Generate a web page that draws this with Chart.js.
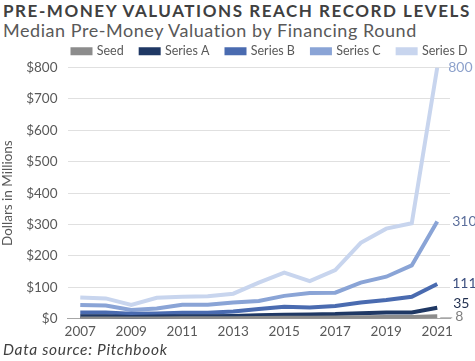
<!DOCTYPE html>
<html><head><meta charset="utf-8">
<script src="https://cdn.jsdelivr.net/npm/chart.js@4"></script>
<style>
body{margin:0;background:#fff;width:475px;height:361px;overflow:hidden;position:relative;font-family:Lato,sans-serif;}
#t{position:absolute;left:3px;top:0px;font:bold 17px Lato,sans-serif;letter-spacing:1.55px;color:#404040;white-space:nowrap;}
#s{position:absolute;left:3px;top:19px;font:18px Lato,sans-serif;letter-spacing:0.55px;color:#595959;white-space:nowrap;}
#src{position:absolute;left:3px;top:340px;font:italic 15.5px Lato,sans-serif;letter-spacing:0.7px;color:#404040;white-space:nowrap;}
#wrap{position:absolute;left:0;top:28px;width:475px;height:317px;}
</style></head><body>
<div id="t">PRE-MONEY VALUATIONS REACH RECORD LEVELS</div>
<div id="s">Median Pre-Money Valuation by Financing Round</div>
<div id="wrap"><canvas id="c"></canvas></div>
<div id="src">Data source: Pitchbook</div>
<script>
const years = ["2007","2008","2009","2010","2011","2012","2013","2014","2015","2016","2017","2018","2019","2020","2021"];
const seed    = [1,1,1,1,1.5,2,2,2.5,3,3.5,4,5,6,6,8];
const seriesA = [8,8,6,7,8,8,9,11,13,14,15,18,20,20,35];
const seriesB = [20,20,16,17,19,19,23,31,38,36,41,52,60,70,111];
const seriesC = [44,42,28,33,45,45,52,57,73,82,83,115,134,170,310];
const seriesD = [68,65,44,67,70,72,80,115,147,120,155,242,287,304,800];
const yTicks = [0,100,200,300,400,500,600,700,800];

const colors = {seed:"#8c8c8c",a:"#1f3864",b:"#4a6bb0",c:"#8aa4d6",d:"#c8d5ee"};
const labelColors = ["#7f7f7f","#1f2d4d","#3d5080","#5c6f9c","#8ea2cc"];
const FONT = 'Lato, sans-serif';

const endLabels = {
  id:'endLabels',
  afterDatasetsDraw(chart){
    const ctx = chart.ctx;
    ctx.save();
    ctx.font = '14px Lato, sans-serif';
    ctx.textBaseline='middle';
    chart.data.datasets.forEach((ds,i)=>{
      const meta = chart.getDatasetMeta(i);
      const p = meta.data[meta.data.length-1];
      const v = ds.data[ds.data.length-1];
      let x = p.x + 15, y = p.y;
      ctx.fillStyle = labelColors[i];
      if(i===0){
        ctx.strokeStyle="#a6a6a6";ctx.lineWidth=1;
        ctx.beginPath();ctx.moveTo(p.x+3,p.y+1.5);ctx.lineTo(p.x+15,p.y+1.5);ctx.stroke();
        x = p.x+18; y = p.y;
      } else if(i===1){ y = p.y-4; x = p.x+16; }
      else if(i===4){ x = p.x+11; }
      ctx.fillText(String(v), x, y);
    });
    ctx.restore();
  }
};

const legendShift = {
  id:'legendShift',
  afterLayout(chart){
    if(chart.legend){ chart.legend.left += 45; chart.legend.right += 45; }
  }
};

const mk = (label,data,color)=>({label,data,borderColor:color,backgroundColor:color,borderWidth:4,pointRadius:0,tension:0,fill:false});
new Chart(document.getElementById('c'),{
  type:'line',
  data:{labels:years,datasets:[
    mk("Seed",seed,colors.seed),
    mk("Series A",seriesA,colors.a),
    mk("Series B",seriesB,colors.b),
    mk("Series C",seriesC,colors.c),
    mk("Series D",seriesD,colors.d)
  ]},
  options:{
    responsive:true,maintainAspectRatio:false,animation:false,
    layout:{padding:{left:0,right:25,top:0,bottom:0}},
    plugins:{
      legend:{position:'top',align:'center',labels:{boxWidth:18,boxHeight:4,padding:17,color:'#595959',font:{size:12.5,family:FONT}}},
      tooltip:{enabled:false}
    },
    scales:{
      x:{offset:true,grid:{display:false,drawTicks:false},border:{display:true,color:'#a6a6a6',width:1},
         ticks:{autoSkip:false,maxRotation:0,padding:5,color:'#595959',font:{size:13.5,family:FONT},
           callback:(v,i)=>i%2===0?years[i]:''}},
      y:{min:0,max:800,afterBuildTicks:(s)=>{s.ticks=yTicks.map(v=>({value:v}));},
         grid:{color:'#e0e0e0',drawTicks:false},border:{display:false},
         ticks:{padding:10,color:'#595959',font:{size:13.5,family:FONT},callback:v=>'$'+v},
         title:{display:true,text:'Dollars in Millions',color:'#595959',font:{size:13.5,family:FONT},padding:{top:0,bottom:0}}}
    }
  },
  plugins:[endLabels,legendShift]
});
</script>
</body></html>
